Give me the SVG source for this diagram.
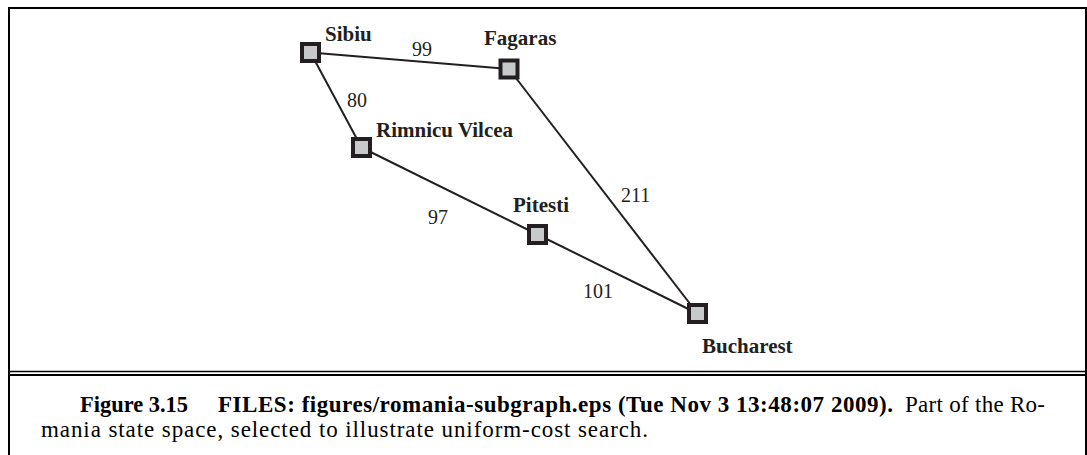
<svg xmlns="http://www.w3.org/2000/svg" width="1087" height="455" viewBox="0 0 1087 455">
<style>
.edge{stroke:#231f20;stroke-width:2;fill:none}
.node{fill:#c8c9ca;stroke:#231f20;stroke-width:4}
.lbl{font-family:"Liberation Serif","Times New Roman",serif;font-weight:bold;font-size:21px;fill:#231f20}
.cost{font-family:"Liberation Serif","Times New Roman",serif;font-size:20px;fill:#231f20}
.cap{font-family:"Liberation Serif","Times New Roman",serif;font-size:23px;fill:#000}
.capb{font-weight:bold}
.frame{stroke:#000;fill:none}
</style>
<rect width="1087" height="455" fill="#fff"/>
<g id="frame">
<path class="frame" stroke-width="2" d="M9,465 V8 H1086 V465"/>
<line class="frame" x1="9" y1="371.5" x2="1086" y2="371.5" stroke-width="1.5"/>
<line class="frame" x1="9" y1="375" x2="1086" y2="375" stroke-width="2"/>
</g>
<g id="connectors">
<line class="edge" x1="310.5" y1="52.5" x2="509" y2="69"/>
<line class="edge" x1="310.5" y1="52.5" x2="361.5" y2="147.5"/>
<line class="edge" x1="361.5" y1="147.5" x2="537.5" y2="234.5"/>
<line class="edge" x1="537.5" y1="234.5" x2="697.5" y2="313.5"/>
<line class="edge" x1="509" y1="69" x2="697.5" y2="313.5"/>
<text class="cost" x="412" y="56">99</text>
<text class="cost" x="347" y="107">80</text>
<text class="cost" x="621" y="202">211</text>
<text class="cost" x="428" y="224">97</text>
<text class="cost" x="583" y="298">101</text>
</g>
<g id="sibiu"><rect class="node" x="302" y="44" width="17" height="17"/><text class="lbl" x="325" y="41">Sibiu</text></g>
<g id="fagaras"><rect class="node" x="500.5" y="60.5" width="17" height="17"/><text class="lbl" x="484" y="45">Fagaras</text></g>
<g id="rimnicu-vilcea"><rect class="node" x="353" y="139" width="17" height="17"/><text class="lbl" x="376" y="137">Rimnicu Vilcea</text></g>
<g id="pitesti"><rect class="node" x="529" y="226" width="17" height="17"/><text class="lbl" x="513" y="212">Pitesti</text></g>
<g id="bucharest"><rect class="node" x="689" y="305" width="17" height="17"/><text class="lbl" x="702" y="353">Bucharest</text></g>
<g id="caption">
<text class="cap capb" x="80" y="412" textLength="108" lengthAdjust="spacingAndGlyphs">Figure 3.15</text>
<text class="cap capb" x="218" y="412" textLength="675" lengthAdjust="spacing">FILES: figures/romania-subgraph.eps (Tue Nov 3 13:48:07 2009).</text>
<text class="cap" x="905" y="412" textLength="140" lengthAdjust="spacing">Part of the Ro-</text>
<text class="cap" x="41" y="437" textLength="607" lengthAdjust="spacing">mania state space, selected to illustrate uniform-cost search.</text>
</g>
</svg>
